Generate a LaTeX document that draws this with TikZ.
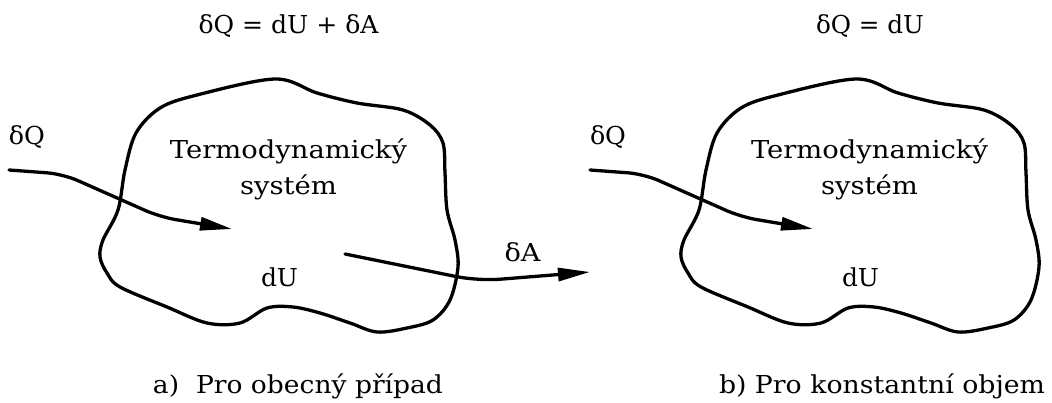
\documentclass[tikz,border=0pt]{standalone}
\usepackage{fontspec}
\setmainfont{DejaVu Serif}
\usetikzlibrary{arrows.meta}
\newcommand\fitw[2]{\resizebox{#1}{\height}{#2}}
\begin{document}
\begin{tikzpicture}[x=1pt,y=-1pt,
  line width=3.3pt, line join=round, line cap=round,
  lbl/.style={font=\fontsize{24.7}{28}\selectfont, inner sep=0pt, anchor=base},
  arr/.style={-{Triangle[length=32pt,width=13pt]}, rounded corners=16pt},
  blob/.style={draw}]
\useasboundingbox (0,0) rectangle (1052,403);
\foreach \s/\n in {0/a,581/b}{
  \begin{scope}[xshift=\s pt]
  \draw[blob] plot[smooth cycle, tension=0.55] coordinates {
    (275,79) (197,95) (160,108) (136,133) (125,170) (118,210) (103,240) (100,257)
    (107,273) (120,287) (167,307) (207,323) (240,323) (267,308) (293,307)
    (320,313) (350,323) (377,332) (407,328) (433,320) (450,300) (458,267)
    (455,240) (447,210) (445,173) (443,143) (430,125) (403,110) (357,103) (317,93)};
  \node[lbl] (t\n) at (288.5,159) {\fitw{237pt}{Termodynamický}};
  \node[lbl] (s\n) at (288.5,195) {\fitw{97pt}{systém}};
  \node[lbl] (u\n) at (279.5,287) {\fitw{37pt}{dU}};
  \node[lbl] (q\n) at (27,145) {\fitw{36pt}{δQ}};
  \coordinate (qs\n) at (9,170);
  \coordinate (qe\n) at (232,229);
  \draw[arr] (qs\n) -- (63,174) -- (160,217) -- (qe\n);
  \end{scope}
}
\coordinate (as) at (345,254);
\coordinate (ae) at (590,272);
\draw[arr, rounded corners=22pt] (as) -- (478,281) -- (ae);
\node[lbl] (dA) at (522.5,262) {\fitw{36pt}{δA}};
\node[lbl] (eq1) at (288.5,34) {\fitw{180pt}{δQ = dU + δA}};
\node[lbl] (eq2) at (870,34) {\fitw{108pt}{δQ = dU}};
\node[lbl] (ca) at (298,393) {\fitw{290pt}{a)\ \ Pro obecný případ}};
\node[lbl] (cb) at (882,393) {\fitw{326pt}{b) Pro konstantní objem}};
\end{tikzpicture}
\end{document}
